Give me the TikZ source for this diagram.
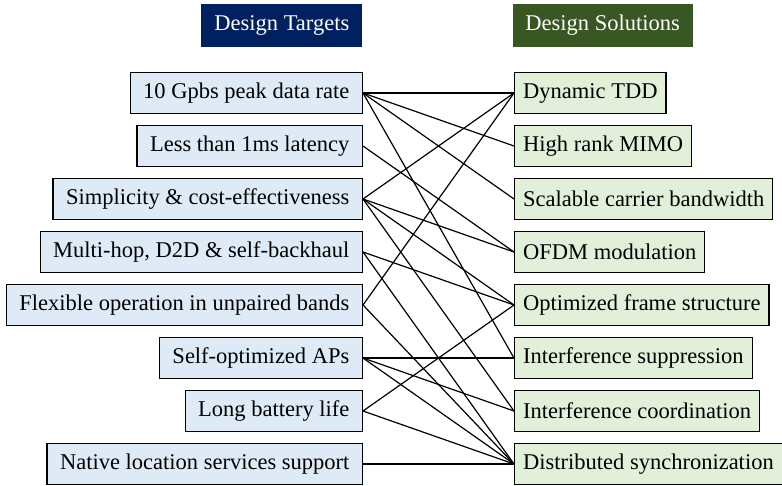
\documentclass[tikz,border=0pt]{standalone}
\usepackage{fontspec}
\setmainfont{Liberation Serif}
\usetikzlibrary{positioning}
\definecolor{cnavy}{HTML}{002060}
\definecolor{cforest}{HTML}{385723}
\definecolor{cpaleblue}{HTML}{DEEBF7}
\definecolor{cpalegreen}{HTML}{E2F0D9}
\tikzset{
  every picture/.style={line width=1.3pt},
  header/.style={fill=#1, text=white, minimum height=43pt, inner xsep=9pt, font=\fontsize{22.5}{26}\selectfont},
  item/.style={draw=black, fill=#1, minimum height=41pt, inner xsep=13pt, font=\fontsize{22.5}{26}\selectfont},
  link/.style={draw=black, line width=1.2pt},
}

\begin{document}
\begin{tikzpicture}[x=1pt, y=-1pt]
  \useasboundingbox (0,0) rectangle (782,485);
  \node[header=cnavy, anchor=east, minimum width=161pt] (th) at (363,25) {Design Targets};
  \node[header=cforest, anchor=west, minimum width=180pt] (sh) at (512,25) {Design Solutions};
  \foreach \i/\lab in {1/10 Gpbs peak data rate, 2/Less than 1ms latency, 3/Simplicity \& cost-effectiveness, 4/{Multi-hop, D2D \& self-backhaul}, 5/Flexible operation in unpaired bands, 6/Self-optimized APs, 7/Long battery life, 8/Native location services support}
    \node[item=cpaleblue, anchor=east] (t\i) at (363,40+53*\i) {\lab};
  \foreach \i/\lab in {1/Dynamic TDD, 2/High rank MIMO, 3/Scalable carrier bandwidth, 4/OFDM modulation, 5/Optimized frame structure, 6/Interference suppression, 7/Interference coordination, 8/Distributed synchronization}
    \node[item=cpalegreen, anchor=west, inner xsep=8.5pt] (s\i) at (514,40+53*\i) {\lab};
  \foreach \a/\b in {1/1, 1/2, 1/3, 1/6, 2/4, 3/1, 3/4, 3/5, 3/7, 4/5, 4/8, 5/1, 5/8, 6/6, 6/7, 6/8, 7/5, 7/8, 8/8}
    \draw[link] (t\a.east) -- (s\b.west);
\end{tikzpicture}
\end{document}
